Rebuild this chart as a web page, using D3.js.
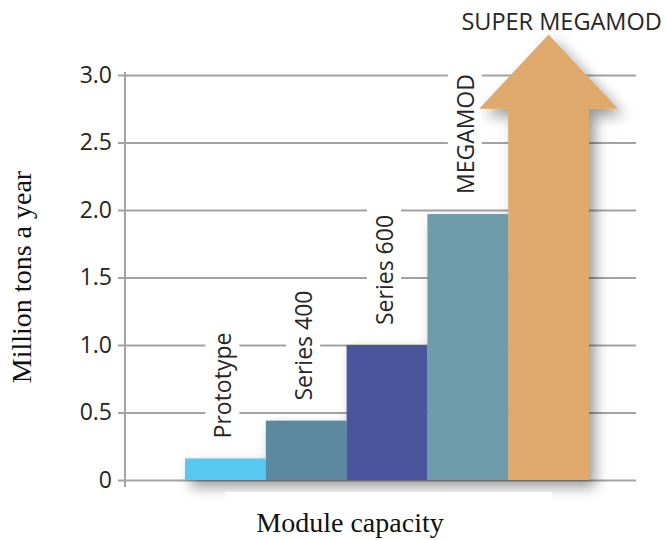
<!DOCTYPE html>
<html>
<head>
<meta charset="utf-8">
<script src="https://cdn.jsdelivr.net/npm/d3@7"></script>
<style>
  html, body { margin: 0; padding: 0; background: #ffffff; }
  svg { display: block; }
</style>
</head>
<body>
<svg id="chart" width="667" height="540"></svg>
<script>
// ---- data ----
const categories = ["Prototype", "Series 400", "Series 600", "MEGAMOD", "SUPER MEGAMOD"];
const values = [0.16, 0.44, 1.0, 1.97, 2.75];   // last = top of arrow shaft
const arrowTipValue = 3.3;                       // arrow tip of SUPER MEGAMOD
const barColors = ["#56c8f2", "#5b88a0", "#4a559d", "#6e9caa", "#dfa96c"];
const yTicks = [0, 0.5, 1.0, 1.5, 2.0, 2.5, 3.0];
const yTickLabels = ["0", "0.5", "1.0", "1.5", "2.0", "2.5", "3.0"];
const yTitle = "Million tons a year";
const xTitle = "Module capacity";

// ---- layout ----
const svg = d3.select("#chart");
const axisX = 125;
const x = d3.scaleBand().domain(categories).range([185, 589]).padding(0);
const y = d3.scaleLinear().domain([0, 3]).range([480, 75]);
const gridRight = 636;
const sans = "'Open Sans', 'Noto Sans', sans-serif";
const serif = "'Liberation Serif', 'DejaVu Serif', serif";
const textCol = "#262626";

// shadow filter
const defs = svg.append("defs");
const f = defs.append("filter").attr("id", "shadow")
  .attr("x", "-20%").attr("y", "-20%").attr("width", "150%").attr("height", "150%");
f.append("feDropShadow").attr("dx", 6).attr("dy", 7).attr("stdDeviation", 7)
  .attr("flood-color", "#000").attr("flood-opacity", 0.4);

// gridlines
const grid = svg.append("g").attr("transform", `translate(${axisX},0)`)
  .call(d3.axisRight(y).tickValues(yTicks).tickSize(gridRight - axisX).tickFormat(""));
grid.select(".domain").remove();
grid.selectAll(".tick line").attr("stroke", "#a3a3a3").attr("stroke-width", 2);

// y axis ticks + labels
const yAxis = svg.append("g").attr("transform", `translate(${axisX},0)`)
  .call(d3.axisLeft(y).tickValues(yTicks).tickSize(7).tickPadding(6)
    .tickFormat((d, i) => yTickLabels[i]));
yAxis.select(".domain").remove();
yAxis.selectAll(".tick line").attr("stroke", "#a3a3a3").attr("stroke-width", 2);
yAxis.selectAll(".tick text").attr("fill", textCol).style("font-family", sans)
  .style("font-size", "23px").style("font-weight", 500);

// vertical axis line
svg.append("line").attr("x1", axisX).attr("x2", axisX)
  .attr("y1", y(3) - 3).attr("y2", y(0) + 7)
  .attr("stroke", "#a3a3a3").attr("stroke-width", 2);

// bar labels (white boxes + rotated text)
const labelGap = 20;
const labelG = svg.append("g");
categories.slice(0, 4).forEach((c, i) => {
  const cx = x(c) + x.bandwidth() / 2 - 3;
  const bottom = y(values[i]) - labelGap;
  const g = labelG.append("g").attr("transform", `translate(${cx},${bottom}) rotate(-90)`);
  const t = g.append("text").attr("x", 0).attr("y", 0)
    .attr("dominant-baseline", "central")
    .attr("fill", textCol).style("font-family", sans).style("font-size", "23px")
    .text(c);
  const bb = t.node().getBBox();
  g.insert("rect", "text").attr("x", bb.x - 10).attr("y", -17)
    .attr("width", bb.width + 20).attr("height", 34).attr("fill", "#fff");
});

// bars + arrow with shadow
const marks = svg.append("g").attr("filter", "url(#shadow)");
marks.selectAll("rect.bar").data(categories.slice(0, 4)).join("rect")
  .attr("class", "bar")
  .attr("x", d => x(d)).attr("y", (d, i) => y(values[i]))
  .attr("width", x.bandwidth()).attr("height", (d, i) => y(0) - y(values[i]))
  .attr("fill", (d, i) => barColors[i]);

const ac = categories[4];
const ax0 = x(ac), ax1 = x(ac) + x.bandwidth(), amid = (ax0 + ax1) / 2;
const headExt = x.bandwidth() * 0.36;
const arrowPts = [
  [ax0, y(0)], [ax0, y(values[4])], [ax0 - headExt, y(values[4])],
  [amid, y(arrowTipValue)],
  [ax1 + headExt, y(values[4])], [ax1, y(values[4])], [ax1, y(0)]
];
marks.append("path").attr("d", d3.line()(arrowPts) + "Z").attr("fill", barColors[4]);

// white band behind x title
svg.append("rect").attr("x", 225).attr("y", 492).attr("width", 327).attr("height", 48)
  .attr("fill", "#fff");

// SUPER MEGAMOD label
svg.append("text").attr("x", amid + 13).attr("y", 30).attr("text-anchor", "middle")
  .attr("fill", textCol).style("font-family", sans).style("font-size", "23.5px")
  .text(ac);

// axis titles
svg.append("text").attr("transform", "translate(31,277) rotate(-90)")
  .attr("text-anchor", "middle").attr("fill", "#111")
  .style("font-family", serif).style("font-size", "28px").text(yTitle);
svg.append("text").attr("x", 350).attr("y", 532).attr("text-anchor", "middle")
  .attr("fill", "#111").style("font-family", serif).style("font-size", "28px").text(xTitle);
</script>
</body>
</html>
